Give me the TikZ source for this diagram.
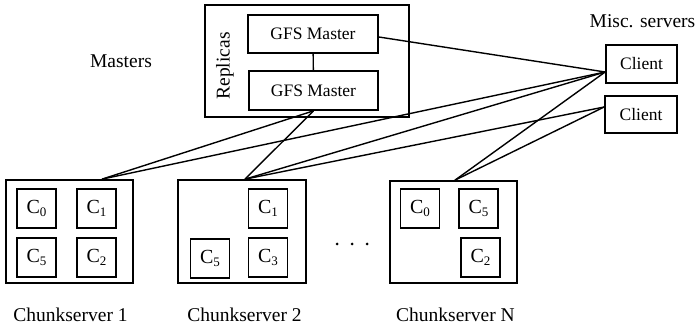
\documentclass[tikz,border=0pt]{standalone}
\usepackage{fontspec}
\setmainfont{Liberation Serif}
\newcommand\chk[1]{C\raisebox{-2.5pt}{\fontsize{13}{13}\selectfont #1}}
\begin{document}
\begin{tikzpicture}[x=1pt,y=-1pt,
  box/.style={draw,line width=1.7pt,rectangle,inner sep=0pt},
  bigtxt/.style={font=\fontsize{19.5}{20}\selectfont},
  midtxt/.style={font=\fontsize{17.5}{18}\selectfont},
  chunk/.style={box,minimum width=39pt,minimum height=39pt,font=\fontsize{20}{20}\selectfont},
  link/.style={line width=1.4pt}]
\useasboundingbox (0,0) rectangle (696,328);
% masters
\node[box,minimum width=204pt,minimum height=112pt] (rep) at (307,61) {};
\node[box,midtxt,minimum width=130pt,minimum height=38pt] (gm1) at (313,34) {GFS Master};
\node[box,midtxt,minimum width=129pt,minimum height=39pt] (gm2) at (313.5,90.5) {GFS Master};
\node[bigtxt,rotate=90] (reptxt) at (225,66) {Replicas};
\node[bigtxt,anchor=base] (mst) at (121,68) {Masters};
% clients
\node[box,midtxt,minimum width=71pt,minimum height=38pt] (cl1) at (641.5,64) {Client};
\node[box,midtxt,minimum width=72pt,minimum height=37pt] (cl2) at (641,114.5) {Client};
\node[bigtxt,anchor=base] (misc) at (642.5,28) {Misc. servers};
% chunkservers
\node[box,minimum width=127pt,minimum height=103pt] (cs1) at (69.5,231.5) {};
\node[box,minimum width=128pt,minimum height=103pt] (cs2) at (242,231.5) {};
\node[box,minimum width=127pt,minimum height=102pt] (csn) at (453.5,232) {};
\node[chunk] (a0) at (36.5,208.5) {\chk{0}};
\node[chunk] (a1) at (96.5,208.5) {\chk{1}};
\node[chunk] (a5) at (36.5,257.5) {\chk{5}};
\node[chunk] (a2) at (96.5,257.5) {\chk{2}};
\node[chunk] (b1) at (268,208.5) {\chk{1}};
\node[chunk] (b5) at (210,258.5) {\chk{5}};
\node[chunk] (b3) at (268,257.5) {\chk{3}};
\node[chunk] (n0) at (420,208.5) {\chk{0}};
\node[chunk] (n5) at (478.5,208.5) {\chk{5}};
\node[chunk] (n2) at (480.5,257.5) {\chk{2}};
\node[bigtxt,anchor=base] (l1) at (70.5,322) {Chunkserver 1};
\node[bigtxt,anchor=base] (l2) at (244.5,322) {Chunkserver 2};
\node[bigtxt,anchor=base] (ln) at (455.5,322) {Chunkserver N};
% dots
\foreach \i/\xx in {1/337,2/352,3/367} \fill (\xx,244) circle (1.5pt) coordinate (d\i);
% connectors
\draw[link] (gm1) -- (gm2);
\coordinate (c1p) at ([yshift=-8pt]cl1.west);
\coordinate (c2p) at ([yshift=7.5pt]cl2.west);
\coordinate (s1p) at ([xshift=32.5pt]cs1.north);
\coordinate (s2p) at ([xshift=3pt]cs2.north);
\coordinate (snp) at ([xshift=1.5pt]csn.north);
\draw[link] ([yshift=-3pt]gm1.east) -- (c1p);
\draw[link] (gm2.south) -- (s1p);
\draw[link] (gm2.south) -- (s2p);
\draw[link] (s1p) -- (c1p);
\draw[link] (s2p) -- (c1p);
\draw[link] (s2p) -- (c2p);
\draw[link] (snp) -- (c1p);
\draw[link] (snp) -- (c2p);
\end{tikzpicture}
\end{document}
